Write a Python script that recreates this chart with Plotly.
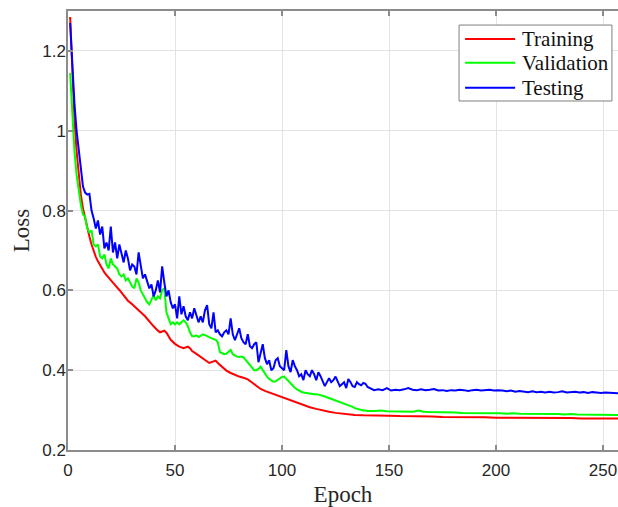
import plotly.graph_objects as go

# ---- training loss (smooth curve) ----
train_epoch = [1, 2, 3, 4, 5, 6, 7, 8, 9, 10, 11, 12, 13, 14, 15, 16, 17, 18, 19, 20,
               22, 24, 26, 28, 30, 32, 34, 36, 38, 40, 42, 43, 44, 45, 46, 48, 50, 52, 54,
               55, 56, 57, 58, 60, 62, 64, 66, 68, 69, 70, 72, 74, 76, 78, 80, 82, 84, 86,
               88, 90, 92, 94, 96, 98, 100, 102, 104, 106, 108, 110, 113, 116, 119, 122,
               125, 128, 131, 134, 138, 142, 146, 150, 155, 160, 165, 170, 175, 180, 185,
               190, 195, 200, 205, 210, 215, 220, 225, 230, 235, 240, 245, 250, 257]
train_loss = [1.285, 1.14, 1.03, 0.95, 0.885, 0.84, 0.805, 0.78, 0.755, 0.735, 0.715, 0.697,
              0.684, 0.673, 0.663, 0.654, 0.645, 0.638, 0.631, 0.624, 0.613, 0.601, 0.588,
              0.574, 0.565, 0.556, 0.545, 0.535, 0.522, 0.51, 0.499, 0.495, 0.497, 0.499,
              0.494, 0.476, 0.466, 0.459, 0.455, 0.458, 0.459, 0.455, 0.448, 0.441, 0.433,
              0.426, 0.418, 0.422, 0.424, 0.418, 0.409, 0.399, 0.393, 0.388, 0.384, 0.381,
              0.377, 0.369, 0.36, 0.353, 0.348, 0.344, 0.34, 0.336, 0.332, 0.328, 0.324,
              0.32, 0.316, 0.312, 0.307, 0.303, 0.299, 0.296, 0.293, 0.291, 0.289, 0.288,
              0.287, 0.287, 0.286, 0.286, 0.285, 0.285, 0.284, 0.284, 0.283, 0.283, 0.282,
              0.282, 0.282, 0.281, 0.281, 0.281, 0.281, 0.280, 0.280, 0.280, 0.280, 0.279,
              0.279, 0.279, 0.279]

# ---- validation loss ----
val_epoch = list(range(1, 141)) + [143, 146, 149, 152, 155, 158, 161, 164, 166, 169, 172,
                                   175, 178, 181, 184, 187, 190, 193, 196, 199, 202, 205,
                                   208, 211, 214, 217, 220, 223, 226, 229, 232, 235, 238,
                                   241, 244, 247, 250, 253, 257]
val_loss = [1.145, 1.03, 0.95, 0.89, 0.85, 0.815, 0.79, 0.785, 0.755, 0.745,
            0.75, 0.715, 0.71, 0.715, 0.685, 0.68, 0.69, 0.665, 0.655, 0.68,
            0.665, 0.66, 0.655, 0.64, 0.635, 0.64, 0.625, 0.63, 0.62, 0.61,
            0.605, 0.63, 0.62, 0.60, 0.59, 0.578, 0.57, 0.565, 0.575, 0.588,
            0.575, 0.585, 0.58, 0.60, 0.605, 0.545, 0.53, 0.515, 0.52, 0.515,
            0.52, 0.515, 0.52, 0.525, 0.52, 0.51, 0.495, 0.485, 0.485, 0.487,
            0.483, 0.486, 0.49, 0.488, 0.485, 0.482, 0.48, 0.478, 0.476, 0.47,
            0.445, 0.442, 0.44, 0.441, 0.445, 0.451, 0.44, 0.436, 0.434, 0.433,
            0.434, 0.432, 0.425, 0.42, 0.413, 0.405, 0.40, 0.40, 0.403, 0.409,
            0.40, 0.39, 0.384, 0.378, 0.374, 0.371, 0.372, 0.376, 0.38, 0.383,
            0.384, 0.378, 0.372, 0.368, 0.362, 0.356, 0.352, 0.348, 0.346, 0.344,
            0.343, 0.342, 0.342, 0.341, 0.34, 0.34, 0.339, 0.338, 0.336, 0.334,
            0.332, 0.331, 0.33, 0.327, 0.325, 0.323, 0.321, 0.319, 0.317, 0.315,
            0.313, 0.311, 0.308, 0.305, 0.303, 0.301, 0.30, 0.299, 0.299, 0.298,
            0.298, 0.299, 0.297, 0.297, 0.296, 0.296, 0.296, 0.299, 0.296, 0.295,
            0.295, 0.294, 0.294, 0.294, 0.293, 0.293, 0.293, 0.293, 0.292, 0.292,
            0.292, 0.291, 0.292, 0.291, 0.291, 0.290, 0.291, 0.290, 0.290, 0.290,
            0.289, 0.290, 0.289, 0.289, 0.289, 0.288, 0.288, 0.288, 0.288]

# ---- testing loss ----
test_epoch = list(range(1, 141)) + list(range(143, 256, 2)) + [257]
test_loss = [1.27, 1.16, 1.07, 1.00, 0.95, 0.90, 0.86, 0.845, 0.84, 0.842,
             0.80, 0.78, 0.755, 0.775, 0.74, 0.76, 0.705, 0.72, 0.70, 0.76,
             0.695, 0.72, 0.68, 0.715, 0.69, 0.67, 0.70, 0.68, 0.65, 0.665,
             0.66, 0.64, 0.695, 0.66, 0.63, 0.64, 0.62, 0.605, 0.615, 0.585,
             0.60, 0.625, 0.595, 0.66, 0.62, 0.585, 0.60, 0.57, 0.555, 0.565,
             0.53, 0.585, 0.54, 0.56, 0.535, 0.525, 0.545, 0.53, 0.555, 0.54,
             0.52, 0.535, 0.52, 0.55, 0.563, 0.515, 0.505, 0.545, 0.495, 0.50,
             0.49, 0.485, 0.495, 0.50, 0.49, 0.53, 0.49, 0.475, 0.49, 0.505,
             0.48, 0.47, 0.465, 0.49, 0.46, 0.455, 0.465, 0.47, 0.42, 0.44,
             0.465, 0.43, 0.415, 0.425, 0.40, 0.405, 0.425, 0.43, 0.41, 0.405,
             0.40, 0.45, 0.41, 0.395, 0.425, 0.41, 0.40, 0.385, 0.39, 0.375,
             0.40, 0.39, 0.385, 0.40, 0.39, 0.375, 0.395, 0.385, 0.37, 0.36,
             0.37, 0.38, 0.37, 0.375, 0.384, 0.37, 0.36, 0.365, 0.37, 0.355,
             0.378, 0.37, 0.36, 0.358, 0.37, 0.365, 0.362, 0.368, 0.366, 0.358,
             0.35, 0.352, 0.35, 0.355, 0.349, 0.351, 0.35, 0.352, 0.355, 0.351,
             0.35, 0.352, 0.35, 0.351, 0.353, 0.349, 0.35, 0.348, 0.35, 0.349,
             0.351, 0.35, 0.348, 0.35, 0.351, 0.349, 0.35, 0.351, 0.349, 0.35,
             0.349, 0.347, 0.349, 0.346, 0.348, 0.347, 0.345, 0.347, 0.345, 0.346,
             0.344, 0.346, 0.344, 0.345, 0.347, 0.344, 0.345, 0.346, 0.344, 0.345,
             0.343, 0.345, 0.344, 0.343, 0.344, 0.343, 0.342, 0.342]

x_ticks = [0, 50, 100, 150, 200, 250]
y_ticks = [0.2, 0.4, 0.6, 0.8, 1.0, 1.2]
y_tick_text = ["0.2", "0.4", "0.6", "0.8", "1", "1.2"]

series = [
    ("Training", train_epoch, train_loss, "#ff0000"),
    ("Validation", val_epoch, val_loss, "#00ff00"),
    ("Testing", test_epoch, test_loss, "#0000ff"),
]

SERIF = "Liberation Serif, Times New Roman, serif"
SANS = "Liberation Sans, Arial, sans-serif"
AXIS_GRAY = "#8c8c8c"

fig = go.Figure()
for name, xs, ys, color in series:
    fig.add_trace(go.Scatter(x=xs, y=ys, mode="lines", name=name,
                             line=dict(color=color, width=2), showlegend=False))

axis_common = dict(
    showline=True, linecolor=AXIS_GRAY, linewidth=1.5,
    showgrid=True, gridcolor="#e3e3e3", gridwidth=1,
    ticks="inside", ticklen=5, tickwidth=1.5, tickcolor=AXIS_GRAY,
    zeroline=False,
    tickfont=dict(family=SANS, size=17, color="#262626"),
)

# Boxed legend in the upper-right corner of the plot area (paper coordinates)
legend_box = dict(x0=0.711, x1=0.989, y0=0.795, y1=0.968)
legend_rows_y = [0.936, 0.882, 0.825]
sample_x0, sample_x1, label_x = 0.722, 0.813, 0.822

shapes = [dict(type="rect", xref="paper", yref="paper", **legend_box,
               line=dict(color="#7f7f7f", width=1), fillcolor="white", layer="above")]
annotations = []
for (name, _, _, color), ry in zip(series, legend_rows_y):
    shapes.append(dict(type="line", xref="paper", yref="paper",
                       x0=sample_x0, x1=sample_x1, y0=ry, y1=ry,
                       line=dict(color=color, width=2), layer="above"))
    annotations.append(dict(xref="paper", yref="paper", x=label_x, y=ry,
                            xanchor="left", yanchor="middle", showarrow=False,
                            text=name, font=dict(family=SERIF, size=21, color="#111111")))

fig.update_layout(
    width=618, height=507,
    margin=dict(l=68, r=0, t=11, b=57),
    paper_bgcolor="white", plot_bgcolor="white",
    xaxis=dict(range=[0, 257], tickvals=x_ticks, mirror="ticks", ticklabelstandoff=4,
               title=dict(text="Epoch", standoff=8,
                          font=dict(family=SERIF, size=23, color="#262626")),
               **axis_common),
    yaxis=dict(range=[0.2, 1.3], tickvals=y_ticks, ticktext=y_tick_text,
               ticklabelstandoff=-3,
               title=dict(text="Loss", standoff=6,
                          font=dict(family=SERIF, size=23, color="#262626")),
               **axis_common),
    shapes=shapes,
    annotations=annotations,
    showlegend=False,
)

fig.write_html("out.html")
